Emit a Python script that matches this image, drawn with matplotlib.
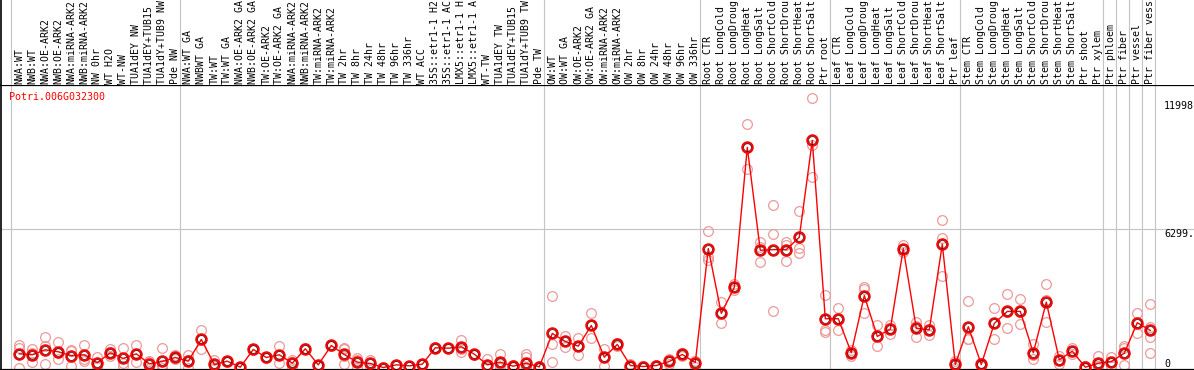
import numpy as np
from matplotlib import pyplot as plt
from matplotlib import transforms

gene = "Potri.006G032300"

labels = ["NWA:WT", "NWB:WT", "NWA:OE-ARK2", "NWB:OE-ARK2", "NWA:miRNA-ARK2", "NWB:miRNA-ARK2",
          "NW 0hr", "WT H2O", "WT-NW", "TUA1dEY NW", "TUA1dEY+TUB15 NW", "TUA1dY+TUB9 NW", "Pde NW",
          "NWA:WT GA", "NWBWT GA", "TW:WT", "TW:WT GA", "NWA:OE-ARK2 GA", "NWB:OE-ARK2 GA",
          "TW:OE-ARK2", "TW:OE-ARK2 GA", "NWA:miRNA-ARK2 GA", "NWB:miRNA-ARK2 GA", "TW:miRNA-ARK2",
          "TW:miRNA-ARK2", "TW 2hr", "TW 8hr", "TW 24hr", "TW 48hr", "TW 96hr", "TW 336hr", "WT ACC",
          "35S::etr1-1 H2O", "35S::etr1-1 ACC", "LMX5::etr1-1 H2O", "LMX5::etr1-1 ACC", "WT-TW",
          "TUA1dEY TW", "TUA1dEY+TUB15 TW", "TUA1dY+TUB9 TW", "Pde TW",
          "OW:WT", "OW:WT GA", "OW:OE-ARK2", "OW:OE-ARK2 GA", "OW:miRNA-ARK2", "OW:miRNA-ARK2",
          "OW 2hr", "OW 8hr", "OW 24hr", "OW 48hr", "OW 96hr", "OW 336hr",
          "Root CTR", "Root LongCold", "Root LongDrought", "Root LongHeat", "Root LongSalt",
          "Root ShortCold", "Root ShortDrought", "Root ShortHeat", "Root ShortSalt", "Ptr root",
          "Leaf CTR", "Leaf LongCold", "Leaf LongDrought", "Leaf LongHeat", "Leaf LongSalt",
          "Leaf ShortCold", "Leaf ShortDrought", "Leaf ShortHeat", "Leaf ShortSalt", "Ptr leaf",
          "Stem CTR", "Stem LongCold", "Stem LongDrought", "Stem LongHeat", "Stem LongSalt",
          "Stem ShortCold", "Stem ShortDrought", "Stem ShortHeat", "Stem ShortSalt", "Ptr shoot",
          "Ptr xylem", "Ptr phloem", "Ptr fiber", "Ptr vessel", "Ptr fiber vessel"]

means = [690, 646, 870, 781, 601, 646, 286, 736, 480, 690, 241, 346, 525,
         360, 1332, 211, 360, 91, 884, 525, 646, 271, 915, 196, 1063, 659, 316, 256, 76, 196,
         151, 226, 960, 942, 1003, 673, 196, 316, 136, 271, 106,
         1601, 1243, 1032, 1960, 538, 1108, 166, 121, 166, 346, 659, 300,
         5401, 2499, 3665, 9932, 5325, 5356, 5356, 5908, 10246, 2261,
         2261, 736, 3293, 1467, 1794, 5401, 1826, 1767, 5594, 211,
         1902, 211, 2050, 2588, 2588, 736, 3006, 422, 807, 90, 269,
         345, 718, 2082, 1736]

reps = [[1063, 942, 61], [884, 720, 331], [1453, 1018, 241], [1198, 710, 435], [852, 794, 166],
        [1063, 465, 375], [538, 166, 91], [884, 754, 570], [929, 256, 136], [1063, 676, 331],
        [346, 316, 61], [929, 200, 196, 61], [615, 495, 465],
        [615, 400, 61], [1736, 915, 1345], [420, 150, 61], [380, 360, 340], [120, 91, 61],
        [900, 884, 868], [545, 525, 505], [1018, 634, 286], [420, 330, 61], [930, 915, 900],
        [210, 196, 182], [1080, 1063, 1046], [942, 884, 241, 570], [494, 400, 54],
        [405, 300, 63], [90, 76, 62], [210, 196, 182], [165, 151, 137], [240, 226, 212],
        [975, 960, 945], [955, 942, 929], [1287, 920, 781], [690, 673, 656], [465, 80, 43],
        [673, 214, 61], [190, 136, 82], [673, 538, 61, 61, 15], [150, 106, 62],
        [3293, 1139, 331], [1467, 1243, 1005], [1409, 1032, 615], [2499, 1960, 1377],
        [884, 538, 166], [1160, 1108, 1056], [250, 166, 82], [140, 121, 102], [180, 166, 152],
        [435, 360, 241], [570, 659, 748], [390, 390, 121],
        [6209, 5024, 4876], [3006, 2499, 2050], [3831, 3665, 3562], [10964, 9900, 8972],
        [5715, 5460, 4800], [7375, 6074, 2588], [5715, 5549, 4863], [7074, 5446, 5190],
        [12157, 10035, 8586], [3338, 1736, 1660],
        [2754, 2296, 1736], [870, 768, 570], [3678, 3600, 2530], [1960, 1467, 1018],
        [1960, 1834, 1588], [5549, 5401, 5250], [2126, 1930, 1422], [1960, 1800, 1543],
        [6702, 5863, 4190], [380, 211, 40],
        [3037, 1340, 1332], [300, 211, 122], [2754, 2064, 1332], [3351, 2556, 1857],
        [3158, 2569, 2037], [1139, 620, 449], [3800, 3092, 2126], [601, 422, 243],
        [942, 807, 672], [130, 90, 50], [583, 150, 74],
        [525, 345, 165], [1018, 939, 197], [2530, 2082, 1633], [2902, 1436, 736, 1870]]

group_ends = [0, 13, 41, 53, 63, 73, 84, 85, 86, 87, 88]
ytop_label = "11998"
ymid_label = "6299."
ytop_val = 11998
ymid_val = 6299

W, H = 1194, 370
fig = plt.figure(figsize=(W / 100, H / 100), dpi=100)
left, top, bottom = 1, 85, 369.5
ax = fig.add_axes([left / W, (H - bottom) / H, (W - left) / W, (bottom - top) / H])
hx = fig.add_axes([left / W, (H - top) / H, (W - left) / W, top / H])

x = np.arange(1, len(means) + 1)
xl = (1 + (left - 19.3) / 13, 1 + (W - 19.3) / 13)
ax.set_xlim(*xl)
hx.set_xlim(*xl)
ax.set_ylim(-13, 12727)
hx.set_ylim(top, 0)

for a in (ax, hx):
    a.set_xticks([])
    a.set_yticks([])
    for s in a.spines.values():
        s.set_visible(False)
ax.spines['left'].set_visible(True)
ax.spines['left'].set_linewidth(1.2)
ax.spines['bottom'].set_visible(True)
ax.spines['bottom'].set_linewidth(1.6)
ax.spines['top'].set_visible(True)
ax.spines['top'].set_linewidth(0.9)
hx.spines['left'].set_visible(True)
hx.spines['left'].set_linewidth(1.2)

grey = '#c4c4c4'
for g in group_ends:
    ax.axvline(g + 0.38, color=grey, lw=0.8, zorder=0)
    hx.axvline(g + 0.38, color=grey, lw=0.8, zorder=0)
ax.axhline(ymid_val, color=grey, lw=0.8, zorder=0)

for i, r in enumerate(reps):
    ax.plot([i + 1] * len(r), r, 'o', mfc='none', mec='#eb9a9a', ms=7, mew=0.9, zorder=2)
ax.plot(x, means, color='red', lw=1.0, zorder=3)
ax.plot(x, means, 'o', mfc='none', mec='red', ms=7.5, mew=1.5, zorder=4)
ax.plot(x, means, 'o', mfc='none', mec='#400000', ms=5.6, mew=0.5, zorder=5)

# header only has room for about 14 characters, the rest is cut off
for i, lab in enumerate(labels):
    hx.text(i + 1, 83.5, lab[:14], rotation=90, rotation_mode='anchor', ha='left', va='center',
            fontsize=7.1, family='DejaVu Sans Mono', clip_on=True)

ax.text(0.0067, 0.958, gene, transform=ax.transAxes, color='red', fontsize=7.2,
        family='DejaVu Sans Mono', ha='left', va='center')

tr = transforms.blended_transform_factory(ax.transAxes, ax.transData)
ax.text(0.975, ytop_val, ytop_label, transform=tr, fontsize=7.2, family='DejaVu Sans Mono',
        ha='left', va='top')
ax.text(0.975, ymid_val, ymid_label, transform=tr, fontsize=7.2, family='DejaVu Sans Mono',
        ha='left', va='top')
ax.text(0.975, 0, "0", transform=tr, fontsize=7.2, family='DejaVu Sans Mono',
        ha='left', va='bottom')

fig.savefig("out.png", dpi=100)
